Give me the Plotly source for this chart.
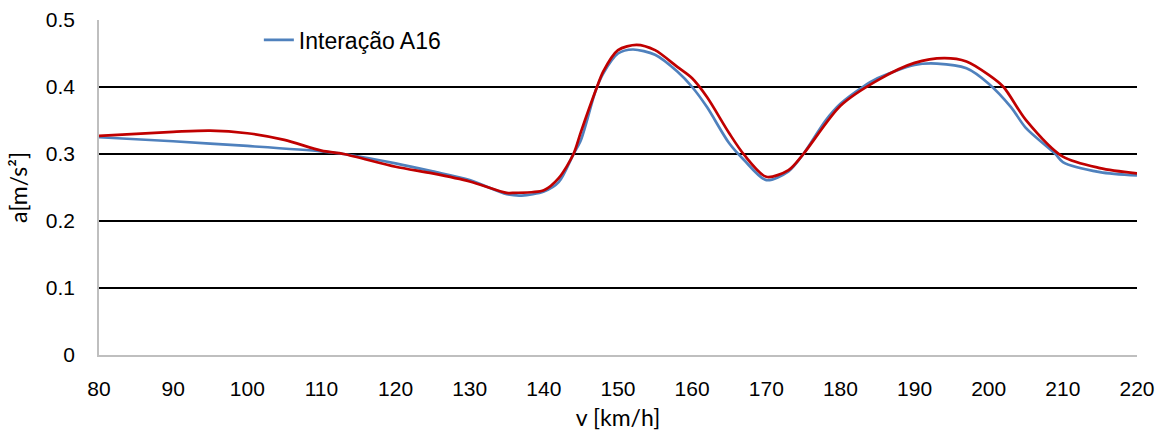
import plotly.graph_objects as go

# Velocidade [km/h] e aceleração [m/s²] - série azul (Interação A16)
v_a16 = [80, 90, 100, 110, 113, 120, 125, 130, 135, 137, 140, 142, 144, 145, 147, 148, 150,
         152, 155, 158, 160, 162, 165, 167, 170, 173, 175, 178, 180, 183, 185, 190, 193,
         197, 200, 203, 205, 209, 210, 215, 220]
a_a16 = [0.325, 0.319, 0.312, 0.304, 0.300, 0.286, 0.274, 0.261, 0.240, 0.238, 0.244, 0.258,
         0.300, 0.321, 0.395, 0.420, 0.450, 0.456, 0.448, 0.423, 0.400, 0.370, 0.316, 0.291,
         0.261, 0.274, 0.300, 0.350, 0.375, 0.400, 0.413, 0.433, 0.435, 0.428, 0.405, 0.370,
         0.339, 0.300, 0.288, 0.273, 0.268]

# Série vermelha (sem entrada na legenda)
v_ref = [80, 90, 95, 100, 105, 110, 113, 120, 125, 130, 135, 136, 140, 142, 144, 145, 147,
         148, 150, 152.5, 155, 158, 160, 162, 165, 167, 170, 173, 175, 180, 185, 190, 194,
         197, 200, 202, 205, 210, 215, 220]
a_ref = [0.327, 0.333, 0.335, 0.331, 0.321, 0.305, 0.300, 0.281, 0.271, 0.259, 0.242, 0.242,
         0.246, 0.264, 0.300, 0.333, 0.395, 0.423, 0.455, 0.463, 0.455, 0.430, 0.413, 0.385,
         0.331, 0.299, 0.266, 0.276, 0.300, 0.372, 0.410, 0.436, 0.443, 0.438, 0.418, 0.400,
         0.351, 0.296, 0.279, 0.271]

x_ticks = [80, 90, 100, 110, 120, 130, 140, 150, 160, 170, 180, 190, 200, 210, 220]
y_ticks = [0, 0.1, 0.2, 0.3, 0.4, 0.5]
y_tick_text = ["0", "0.1", "0.2", "0.3", "0.4", "0.5"]

fig = go.Figure()
fig.add_trace(go.Scatter(
    x=v_a16, y=a_a16, mode="lines", name="Interação A16",
    line=dict(color="#4F81BD", width=2.7, shape="spline", smoothing=0.8),
))
fig.add_trace(go.Scatter(
    x=v_ref, y=a_ref, mode="lines", name="", showlegend=False,
    line=dict(color="#C00000", width=2.7, shape="spline", smoothing=0.8),
))

font_family = "Liberation Sans, Arial, sans-serif"
title_family = "Lato, Liberation Sans, sans-serif"
tick_size = 21
fig.update_layout(
    width=1159, height=434,
    margin=dict(l=99, r=22, t=20, b=79),
    paper_bgcolor="white", plot_bgcolor="white",
    font=dict(family=font_family, size=tick_size, color="#000000"),
    showlegend=True,
    legend=dict(
        x=0.154, y=1.005, xanchor="left", yanchor="top",
        bgcolor="rgba(0,0,0,0)", borderwidth=0,
        font=dict(family=font_family, size=23, color="#000000"),
        itemwidth=30,
    ),
    xaxis=dict(
        range=[80, 220], tickmode="array", tickvals=x_ticks,
        ticktext=[str(t) for t in x_ticks],
        showgrid=False, zeroline=False, automargin=False,
        showline=True, linecolor="#BFBFBF", linewidth=1.5,
        ticks="outside", ticklen=14, tickcolor="rgba(0,0,0,0)",
        tickfont=dict(family=font_family, size=tick_size),
        title=dict(text="v [km/h]", font=dict(family=title_family, size=23), standoff=11),
    ),
    yaxis=dict(
        range=[0, 0.5], tickmode="array", tickvals=y_ticks, ticktext=y_tick_text,
        showgrid=True, gridcolor="#000000", gridwidth=1.7,
        zeroline=False, automargin=False,
        showline=True, linecolor="#BFBFBF", linewidth=1.5,
        ticks="outside", ticklen=18, tickcolor="rgba(0,0,0,0)",
        tickfont=dict(family=font_family, size=tick_size),
        title=dict(text="a[m/s²]", font=dict(family=title_family, size=23), standoff=12),
    ),
)

fig.write_html("out.html")
